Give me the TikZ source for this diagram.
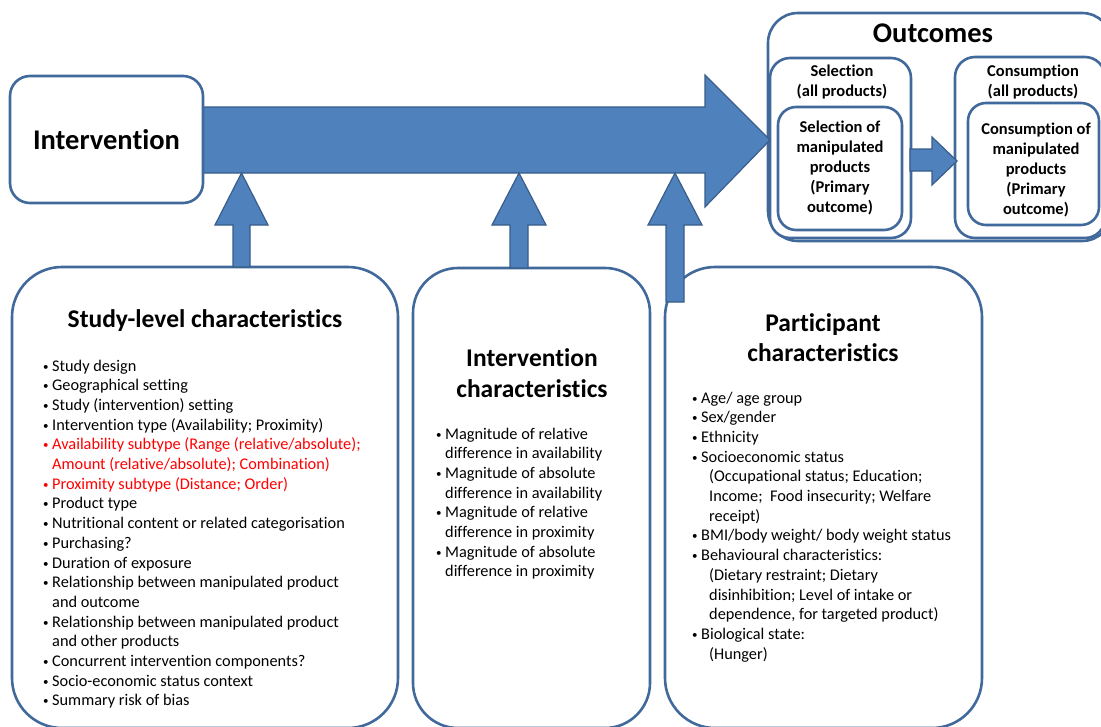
\documentclass[tikz,border=0pt]{standalone}
\usepackage{fontspec}
\setmainfont{Carlito}[Ligatures={NoCommon}]
\usetikzlibrary{positioning}
\definecolor{boxline}{RGB}{65,105,155}
\definecolor{arrowfill}{RGB}{79,129,189}
\definecolor{arrowline}{RGB}{56,93,138}
\definecolor{alert}{RGB}{255,0,0}
\newcommand\bul{\makebox[9pt][l]{\raisebox{1pt}{\fontsize{11}{11}\selectfont\textbullet}}}
\newcommand\ind{\hspace*{9pt}}
\newcommand\indd{\hspace*{17pt}}

\begin{document}
\begin{tikzpicture}[x=1pt,y=-1pt,
    panel/.style={draw=boxline, line width=2.6pt, fill=white, rounded corners=#1, inner sep=0pt},
    panel/.default=20pt,
    blockarrow/.style={fill=arrowfill, draw=arrowline, line width=1.2pt},
    head/.style={font=\bfseries\fontsize{25.5}{30.5}\selectfont, align=center, inner sep=0pt},
    bighead/.style={font=\bfseries\fontsize{28.5}{32}\selectfont, align=center, inner sep=0pt},
    sub/.style={font=\bfseries\fontsize{16.5}{20}\selectfont, align=center, inner sep=0pt},
    list/.style={font=\fontsize{16.3}{19.7}\selectfont, align=left, inner sep=0pt, anchor=north west}]
    \clip (0,0) rectangle (1101,726);
    \fill[white] (0,0) rectangle (1101,726);

    \node[panel=30pt, minimum width=344, minimum height=228] (outcomes) at (940,127) {};
    \node[bighead] (outtitle) at (933,33) {Outcomes};
    \node[panel, minimum width=141, minimum height=180] (sel) at (840.5,148) {};
    \node[panel=18pt, minimum width=124, minimum height=123] (selin) at (840,168.5) {};
    \node[panel, minimum width=150, minimum height=181] (con) at (1030,147.5) {};
    \node[panel=18pt, minimum width=131, minimum height=122] (conin) at (1033.5,164) {};
    \node[sub] (seltitle) at (842,82) {Selection\\(all products)};
    \node[sub] (selprim) at (840,168) {Selection of\\manipulated\\products\\(Primary\\outcome)};
    \node[sub] (contitle) at (1033,82) {Consumption\\(all products)};
    \node[sub] (conprim) at (1036,170) {Consumption of\\manipulated\\products\\(Primary\\outcome)};

    \draw[blockarrow] (203,107) -- (705,107) -- (705,75) -- (770,140)
      -- (705,207) -- (705,173) -- (203,173) -- cycle;
    \draw[blockarrow] (910,149) -- (932,149) -- (932,137) -- (957,161)
      -- (932,185) -- (932,171) -- (910,171) -- cycle;

    \node[panel, minimum width=193, minimum height=127,
      font=\bfseries\fontsize{28.5}{32}\selectfont] (interv) at (106.5,139.5) {Intervention};

    \node[panel=50pt, minimum width=386, minimum height=461] (study) at (205,497.5) {};
    \node[panel=45pt, minimum width=237, minimum height=460] (ichar) at (531.5,498) {};
    \node[panel=50pt, minimum width=317, minimum height=461] (pchar) at (823.5,497.5) {};

    \node[head] (studytitle) at (205,321) {Study-level characteristics};
    \node[list] (studylist) at (43,359.5) {
      \bul Study design\\
      \bul Geographical setting\\
      \bul Study (intervention) setting\\
      \bul Intervention type (Availability; Proximity)\\
      \textcolor{alert}{\bul Availability subtype (Range (relative/absolute);}\\
      \textcolor{alert}{\ind Amount (relative/absolute); Combination)}\\
      \textcolor{alert}{\bul Proximity subtype (Distance; Order)}\\
      \bul Product type\\
      \bul Nutritional content or related categorisation\\
      \bul Purchasing?\\
      \bul Duration of exposure\\
      \bul Relationship between manipulated product\\
      \ind and outcome\\
      \bul Relationship between manipulated product\\
      \ind and other products\\
      \bul Concurrent intervention components?\\
      \bul Socio-economic status context\\
      \bul Summary risk of bias};

    \node[head] (ichartitle) at (532,373) {Intervention\\characteristics};
    \node[list] (icharlist) at (436,427.5) {
      \bul Magnitude of relative\\
      \ind difference in availability\\
      \bul Magnitude of absolute\\
      \ind difference in availability\\
      \bul Magnitude of relative\\
      \ind difference in proximity\\
      \bul Magnitude of absolute\\
      \ind difference in proximity};

    \node[head] (pchartitle) at (823,337.5) {Participant\\characteristics};
    \node[list] (pcharlist) at (692,391.5) {
      \bul Age/ age group\\
      \bul Sex/gender\\
      \bul Ethnicity\\
      \bul Socioeconomic status\\
      \indd (Occupational status; Education;\\
      \indd Income;~ Food insecurity; Welfare\\
      \indd receipt)\\
      \bul BMI/body weight/ body weight status\\
      \bul Behavioural characteristics:\\
      \indd (Dietary restraint; Dietary\\
      \indd disinhibition; Level of intake or\\
      \indd dependence, for targeted product)\\
      \bul Biological state:\\
      \indd (Hunger)};

    \draw[blockarrow] (233,267) -- (233,225) -- (215,225) -- (241.5,173)
      -- (268,225) -- (250,225) -- (250,267) -- cycle;
    \draw[blockarrow] (510,268) -- (510,225) -- (492,225) -- (519,173)
      -- (546,225) -- (528,225) -- (528,268) -- cycle;
    \draw[blockarrow] (666,302) -- (666,225) -- (648,225) -- (675,173)
      -- (702,225) -- (684,225) -- (684,302) -- cycle;
\end{tikzpicture}
\end{document}
